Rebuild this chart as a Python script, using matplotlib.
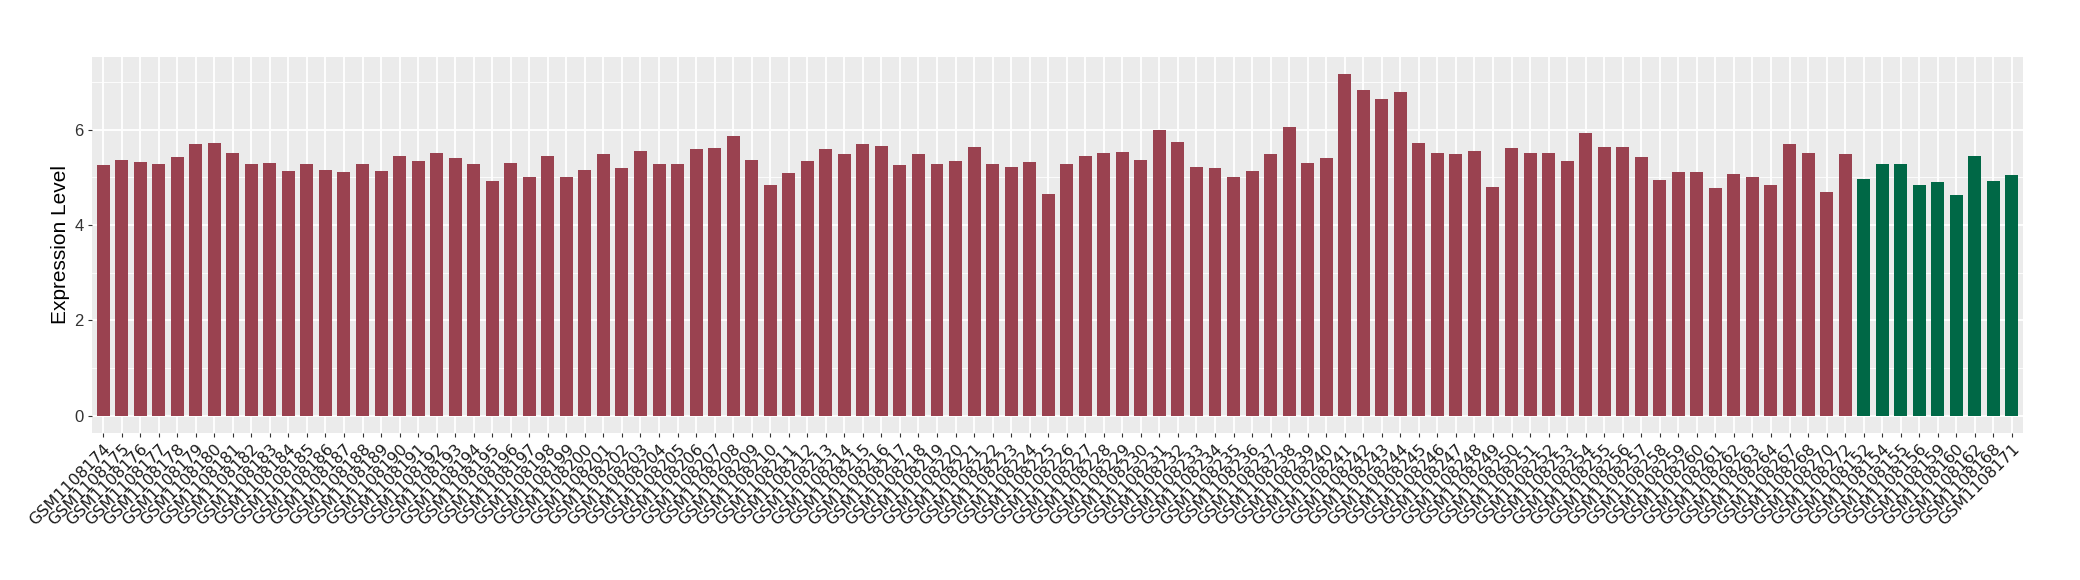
import matplotlib.pyplot as plt
import numpy as np

# sample ids (maroon group, then green group)
group_a_ids = [f"GSM{n}" for n in list(range(1108174, 1108265)) + [1108267, 1108268, 1108270, 1108272]]
group_b_ids = ["GSM1108152", "GSM1108154", "GSM1108155", "GSM1108156", "GSM1108159",
               "GSM1108160", "GSM1108162", "GSM1108168", "GSM1108171"]

group_a_vals = [
    5.25, 5.37, 5.33, 5.27, 5.43, 5.69, 5.71, 5.52, 5.29, 5.31,
    5.14, 5.27, 5.16, 5.12, 5.29, 5.14, 5.45, 5.35, 5.52, 5.41,
    5.27, 4.93, 5.31, 5.01, 5.45, 5.01, 5.16, 5.50, 5.20, 5.56,
    5.27, 5.29, 5.60, 5.62, 5.87, 5.37, 4.85, 5.10, 5.35, 5.60,
    5.48, 5.69, 5.66, 5.25, 5.48, 5.27, 5.35, 5.64, 5.27, 5.22,
    5.33, 4.66, 5.29, 5.45, 5.52, 5.54, 5.37, 6.00, 5.75, 5.22,
    5.20, 5.01, 5.14, 5.50, 6.06, 5.31, 5.41, 7.17, 6.84, 6.65,
    6.78, 5.73, 5.52, 5.48, 5.56, 4.80, 5.62, 5.52, 5.52, 5.35,
    5.94, 5.64, 5.64, 5.43, 4.95, 5.12, 5.12, 4.78, 5.08, 5.01,
    4.85, 5.69, 5.52, 4.70, 5.50,
]
group_b_vals = [4.97, 5.27, 5.27, 4.85, 4.91, 4.64, 5.45, 4.93, 5.06]

color_a = '#9A4250'
color_b = '#006846'

labels = group_a_ids + group_b_ids
values = group_a_vals + group_b_vals
colors = [color_a] * len(group_a_vals) + [color_b] * len(group_b_vals)
x = np.arange(len(labels))

fig = plt.figure(figsize=(20.8, 5.8), dpi=100)
ax = fig.add_axes([0.0442, 0.2534, 0.9284, 0.6488])

# ggplot-like grey panel
ax.set_facecolor('#EBEBEB')
for s in ax.spines.values():
    s.set_visible(False)
ax.set_axisbelow(True)
ax.set_yticks([1, 3, 5, 7], minor=True)
ax.grid(True, which='major', color='white', linewidth=1.3)
ax.grid(True, which='minor', axis='y', color='white', linewidth=0.6)

ax.bar(x, values, width=0.7, color=colors)

ax.set_xlim(-0.6, len(labels) - 0.4)
ymax = max(values)
ax.set_ylim(-0.05 * ymax, 1.05 * ymax)
ax.set_yticks([0, 2, 4, 6])
ax.set_xticks(x)
ax.set_xticklabels(labels, rotation=45, ha='right', va='top',
                   rotation_mode='anchor', fontsize=11.5, color='#1a1a1a',
                   family='DejaVu Sans')
for t in ax.get_yticklabels():
    t.set_family('Liberation Sans')
    t.set_fontsize(12)
    t.set_color('#333333')
ax.tick_params(axis='both', which='major', length=3, color='#333333', pad=3)
ax.tick_params(axis='y', which='minor', length=0)

ax.set_ylabel('Expression Level', fontsize=15, family='Liberation Sans', labelpad=3)

fig.savefig('out.png', dpi=100)
